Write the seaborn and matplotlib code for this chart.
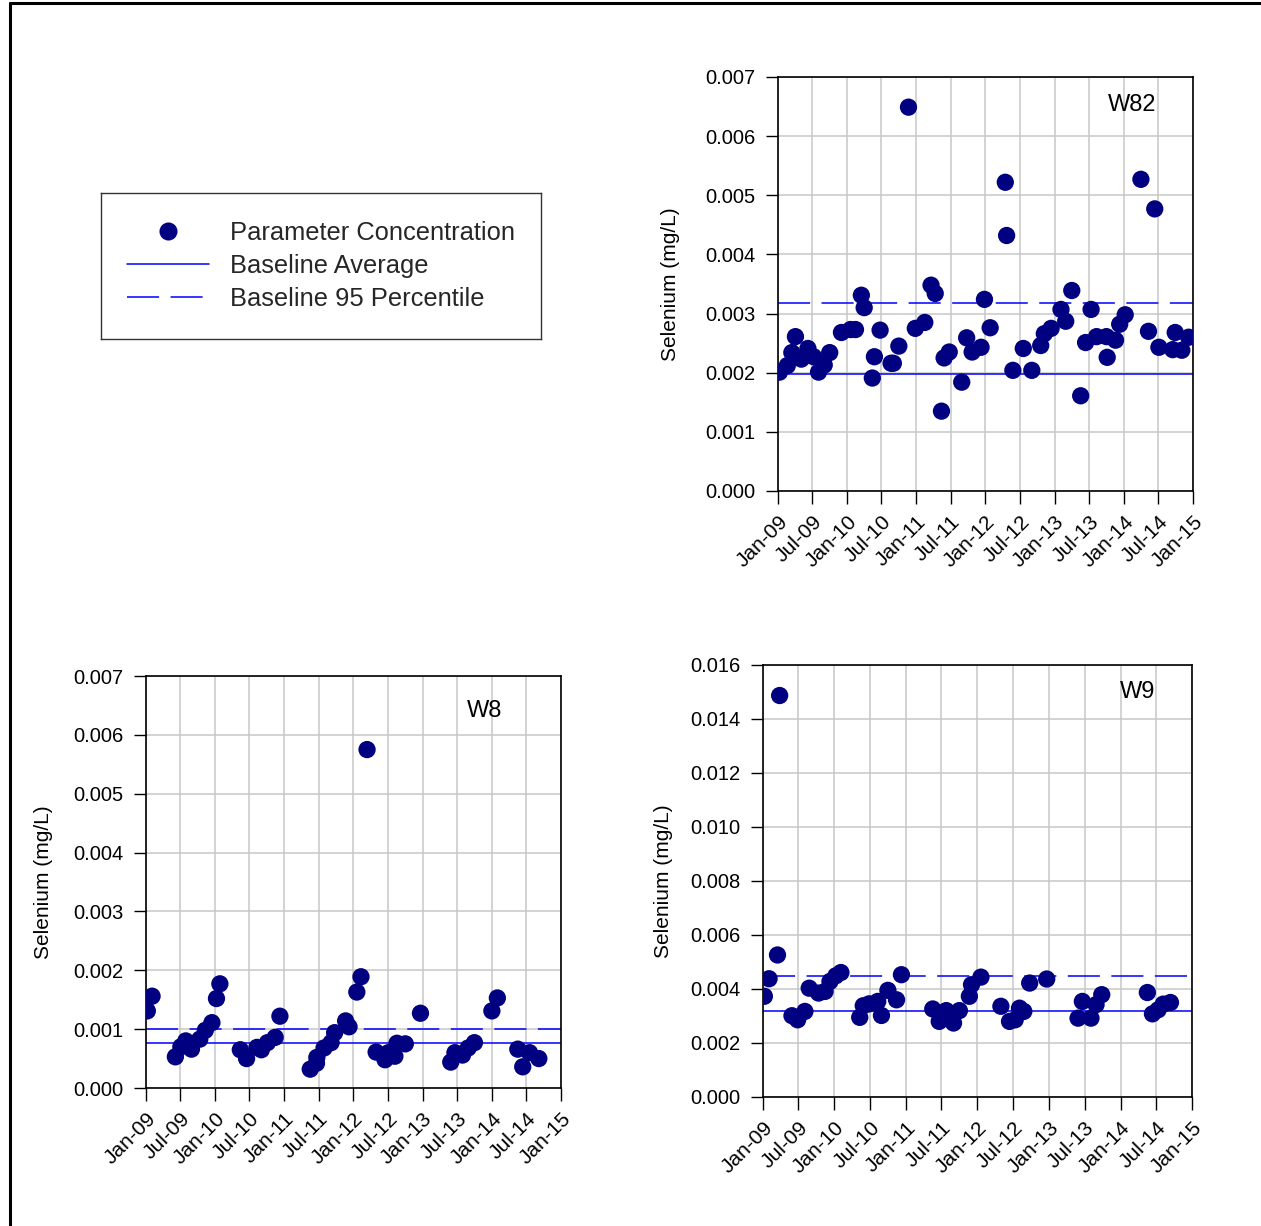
import matplotlib
matplotlib.use("Agg")
import matplotlib.pyplot as plt
import matplotlib.dates as mdates
from matplotlib.lines import Line2D
import seaborn as sns
import pandas as pd
import numpy as np

# ---------------- data ----------------
w82_dates = ["2009-01-09", "2009-02-19", "2009-03-15", "2009-04-03", "2009-05-04", "2009-06-08",
             "2009-07-08", "2009-08-03", "2009-09-02", "2009-10-01", "2009-12-02", "2010-01-19",
             "2010-02-14", "2010-03-17", "2010-04-01", "2010-05-25", "2010-05-14", "2010-06-24",
             "2010-08-21", "2010-09-02", "2010-10-01", "2010-11-21", "2010-12-27", "2011-02-15",
             "2011-03-20", "2011-04-11", "2011-05-14", "2011-05-28", "2011-06-24", "2011-08-29",
             "2011-09-24", "2011-10-23", "2011-12-09", "2011-12-27", "2012-01-26", "2012-04-15",
             "2012-04-22", "2012-05-25", "2012-07-19", "2012-09-02", "2012-10-19", "2012-11-07",
             "2012-12-13", "2013-02-03", "2013-02-28", "2013-04-01", "2013-05-18", "2013-06-13",
             "2013-07-12", "2013-08-10", "2013-10-01", "2013-10-05", "2013-11-18", "2013-12-10",
             "2014-01-08", "2014-04-01", "2014-05-11", "2014-06-13", "2014-07-05", "2014-09-16",
             "2014-09-29", "2014-11-03", "2014-12-09"]
w82_values = [0.00201, 0.00212, 0.00234, 0.00261, 0.00223, 0.00241, 0.00227, 0.00201, 0.00213,
              0.00234, 0.00268, 0.00273, 0.00273, 0.00331, 0.00310, 0.00227, 0.00191, 0.00272,
              0.00216, 0.00216, 0.00245, 0.00649, 0.00275, 0.00285, 0.00348, 0.00334, 0.00135,
              0.00225, 0.00235, 0.00184, 0.00259, 0.00235, 0.00243, 0.00324, 0.00276, 0.00522,
              0.00432, 0.00204, 0.00241, 0.00204, 0.00246, 0.00266, 0.00275, 0.00307, 0.00287,
              0.00339, 0.00161, 0.00251, 0.00307, 0.00261, 0.00261, 0.00226, 0.00255, 0.00282,
              0.00298, 0.00527, 0.00270, 0.00477, 0.00243, 0.00239, 0.00268, 0.00238, 0.00260]
w82_avg = 0.00198
w82_p95 = 0.00318

w8_dates = ["2009-01-08", "2009-02-02", "2009-06-05", "2009-07-04", "2009-07-30", "2009-08-29",
            "2009-10-12", "2009-11-10", "2009-12-15", "2010-01-08", "2010-01-26", "2010-05-14",
            "2010-06-16", "2010-08-10", "2010-09-02", "2010-10-04", "2010-11-14", "2010-12-09",
            "2011-05-18", "2011-06-20", "2011-06-22", "2011-07-30", "2011-09-05", "2011-09-24",
            "2011-11-21", "2011-12-09", "2012-01-19", "2012-02-10", "2012-03-13", "2012-04-30",
            "2012-06-16", "2012-07-04", "2012-08-07", "2012-08-18", "2012-10-01", "2012-12-20",
            "2013-05-29", "2013-06-20", "2013-07-30", "2013-08-29", "2013-10-01", "2014-01-01",
            "2014-01-30", "2014-05-18", "2014-06-13", "2014-07-19", "2014-09-06"]
w8_values = [0.00131, 0.00156, 0.00053, 0.00070, 0.00080, 0.00066, 0.00083, 0.00098, 0.00111,
             0.00152, 0.00177, 0.00065, 0.00050, 0.00069, 0.00065, 0.00077, 0.00086, 0.00122,
             0.00032, 0.00042, 0.00052, 0.00068, 0.00077, 0.00094, 0.00114, 0.00104, 0.00163,
             0.00189, 0.00575, 0.00061, 0.00048, 0.00060, 0.00054, 0.00076, 0.00075, 0.00127,
             0.00044, 0.00060, 0.00056, 0.00068, 0.00077, 0.00131, 0.00153, 0.00066, 0.00036,
             0.00060, 0.00050]
w8_avg = 0.00076
w8_p95 = 0.00100

w9_dates = ["2009-01-08", "2009-02-01", "2009-03-16", "2009-03-27", "2009-05-29", "2009-06-27",
            "2009-08-03", "2009-08-25", "2009-10-12", "2009-11-14", "2009-12-09", "2010-01-08",
            "2010-02-03", "2010-05-10", "2010-05-28", "2010-06-27", "2010-08-10", "2010-08-29",
            "2010-10-01", "2010-11-14", "2010-12-09", "2011-05-18", "2011-06-20", "2011-06-27",
            "2011-07-26", "2011-09-01", "2011-08-30", "2011-10-01", "2011-11-21", "2011-12-02",
            "2012-01-19", "2012-04-30", "2012-06-13", "2012-07-12", "2012-08-03", "2012-08-25",
            "2012-09-24", "2012-12-20", "2013-05-29", "2013-06-20", "2013-08-03", "2013-08-29",
            "2013-09-27", "2014-05-18", "2014-06-13", "2014-07-12", "2014-08-07", "2014-09-13"]
w9_values = [0.00373, 0.00438, 0.00526, 0.01487, 0.00301, 0.00286, 0.00317, 0.00403, 0.00385,
             0.00391, 0.00428, 0.00449, 0.00461, 0.00295, 0.00338, 0.00345, 0.00354, 0.00302,
             0.00395, 0.00360, 0.00453, 0.00326, 0.00280, 0.00301, 0.00320, 0.00274, 0.00301,
             0.00320, 0.00373, 0.00416, 0.00444, 0.00336, 0.00280, 0.00286, 0.00329, 0.00317,
             0.00422, 0.00437, 0.00292, 0.00354, 0.00292, 0.00342, 0.00379, 0.00387, 0.00308,
             0.00323, 0.00344, 0.00350]
w9_avg = 0.00317
w9_p95 = 0.00447

legend_labels = ["Parameter Concentration", "Baseline Average", "Baseline 95 Percentile"]
y_label = "Selenium (mg/L)"

# ---------------- style ----------------
sns.set_theme(style="ticks")
plt.rcParams["font.family"] = ["Liberation Sans", "DejaVu Sans"]

W, H = 1261, 1226
fig = plt.figure(figsize=(W / 100, H / 100), dpi=100)
fig.patch.set_facecolor("white")

NAVY = "#000080"
BLUE = "#0000ff"
DASH = (21, 7.5)


def px_rect(left, top, right, bottom):
    return [left / W, 1 - bottom / H, (right - left) / W, (bottom - top) / H]


def panel(rect, dates, values, avg, p95, ymax, ystep, name, name_pos, label_x):
    ax = fig.add_axes(rect)
    df = pd.DataFrame({"date": pd.to_datetime(dates), "value": values})
    ax.set_axisbelow(True)
    ax.grid(True, color="#c8c8c8", linewidth=1.1)
    ax.axhline(avg, color=BLUE, linewidth=1.1, zorder=2)
    ax.axhline(p95, color=BLUE, linewidth=1.1, dashes=DASH, zorder=2)
    sns.scatterplot(data=df, x="date", y="value", ax=ax, color=NAVY, s=155,
                    edgecolor="none", linewidth=0, zorder=3, legend=False)
    ax.set_xlim(pd.Timestamp("2009-01-01"), pd.Timestamp("2015-01-01"))
    ax.set_ylim(0, ymax)
    ax.set_yticks(np.arange(0, ymax + ystep / 2, ystep))
    ax.yaxis.set_major_formatter(matplotlib.ticker.FormatStrFormatter("%.3f"))
    ax.xaxis.set_major_locator(mdates.MonthLocator(bymonth=[1, 7]))
    ax.xaxis.set_major_formatter(mdates.DateFormatter("%b-%y"))
    ax.tick_params(axis="both", direction="out", length=9, width=1.0,
                   color="black", labelcolor="black")
    ax.tick_params(axis="y", labelsize=14.5, pad=7)
    ax.tick_params(axis="x", labelsize=15, pad=6)
    for lab in ax.get_xticklabels():
        lab.set_rotation(45)
        lab.set_ha("right")
        lab.set_rotation_mode("anchor")
    for sp in ax.spines.values():
        sp.set_visible(True)
        sp.set_color("black")
        sp.set_linewidth(1.2)
    ax.set_xlabel("")
    ax.set_ylabel(y_label, fontsize=15, color="black", va="center")
    ax.yaxis.set_label_coords(label_x, 0.5)
    ax.text(name_pos[0], name_pos[1], name, transform=ax.transAxes,
            fontsize=17, ha="center", va="center", color="black")
    return ax


panel(px_rect(778, 77, 1193, 491), w82_dates, w82_values, w82_avg, w82_p95,
      0.007, 0.001, "W82", (0.853, 0.932), -0.260)
panel(px_rect(146, 676, 561, 1088), w8_dates, w8_values, w8_avg, w8_p95,
      0.007, 0.001, "W8", (0.817, 0.915), -0.248)
panel(px_rect(763, 665, 1192, 1097), w9_dates, w9_values, w9_avg, w9_p95,
      0.016, 0.002, "W9", (0.874, 0.9375), -0.233)

# ---------------- legend box ----------------
lax = fig.add_axes(px_rect(101, 193, 541, 339))
lax.set_xticks([])
lax.set_yticks([])
lax.set_facecolor("white")
for sp in lax.spines.values():
    sp.set_visible(True)
    sp.set_color("#333333")
    sp.set_linewidth(1.0)
handles = [
    Line2D([], [], linestyle="none", marker="o", markersize=13, color=NAVY,
           markeredgewidth=0),
    Line2D([], [], color=BLUE, linewidth=1.1),
    Line2D([], [], color=BLUE, linewidth=1.1, dashes=DASH),
]
lax.legend(handles, legend_labels, loc="center", frameon=False, fontsize=18.4,
           handlelength=3.2, handletextpad=0.8, labelspacing=0.36,
           borderaxespad=0)

# ---------------- page border ----------------
fig.add_artist(Line2D([10 / W, 10 / W], [0, 1 - 3 / H], color="black",
                      linewidth=2.2, transform=fig.transFigure))
fig.add_artist(Line2D([10 / W, 1], [1 - 3 / H, 1 - 3 / H], color="black",
                      linewidth=2.2, transform=fig.transFigure))

fig.savefig("out.png", dpi=100, facecolor="white")
